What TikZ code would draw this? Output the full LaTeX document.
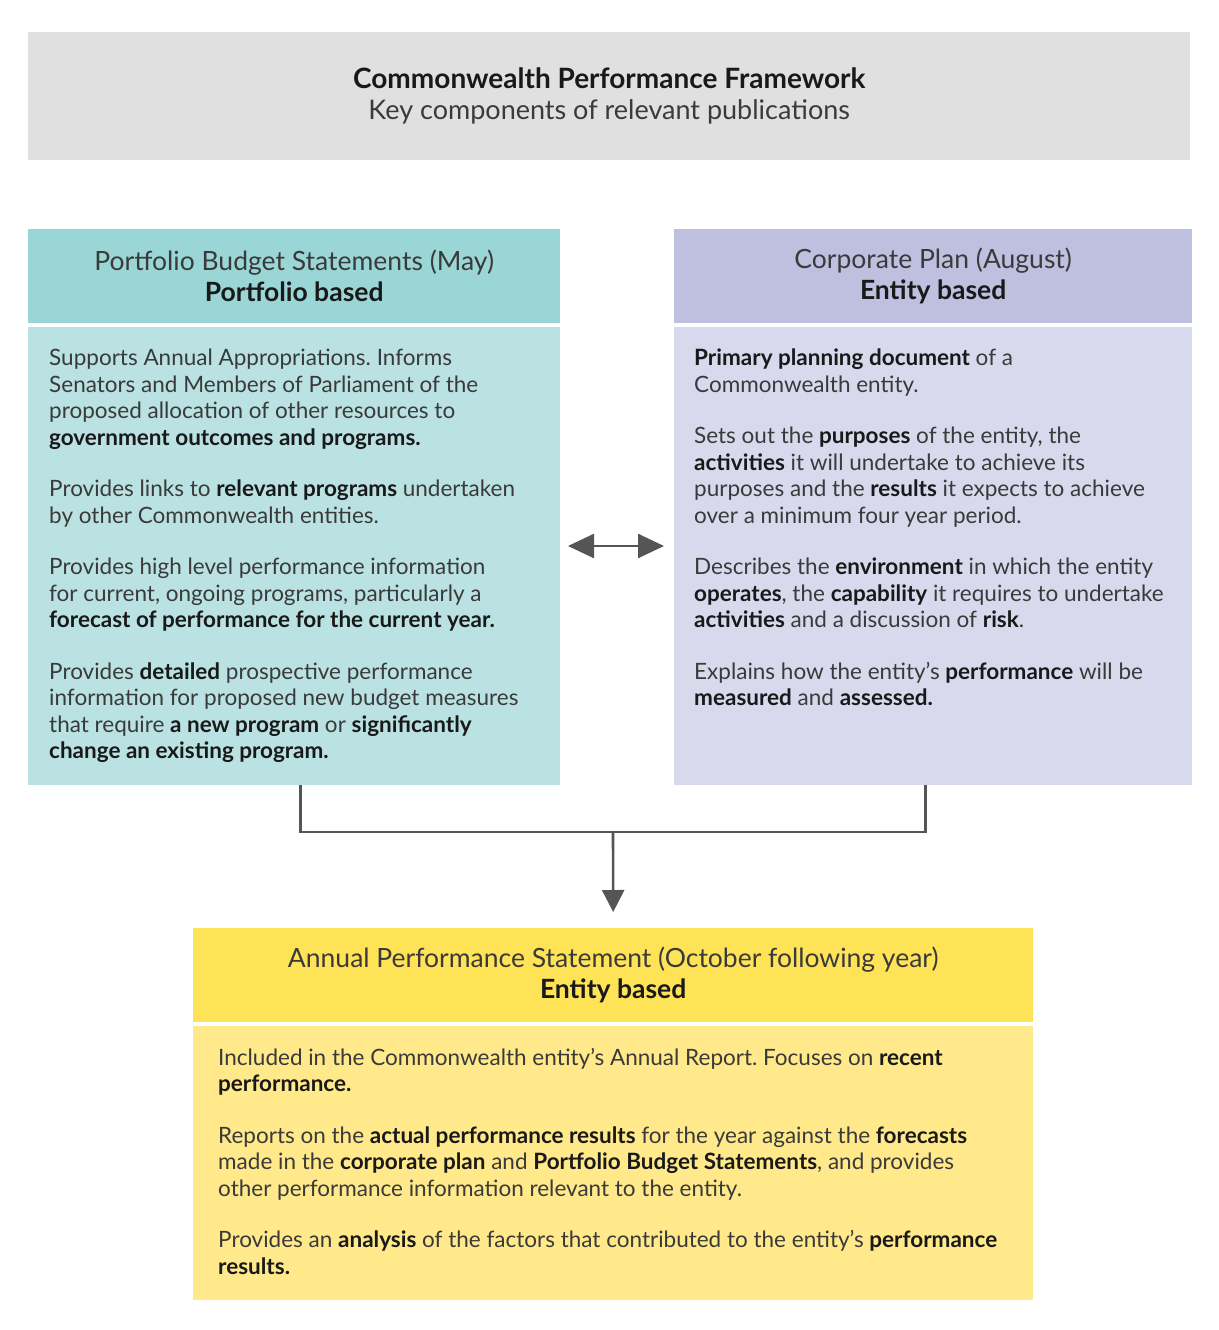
\documentclass[tikz,border=0pt]{standalone}
\usepackage{fontspec}
\setmainfont{Lato}
\usetikzlibrary{calc,arrows.meta,positioning}
\frenchspacing

\definecolor{titlegray}{HTML}{E0E0E0}
\definecolor{pbshead}{HTML}{9AD6D5}
\definecolor{pbsbody}{HTML}{BAE2E2}
\definecolor{cphead}{HTML}{BFBFE0}
\definecolor{cpbody}{HTML}{D9D9EE}
\definecolor{apshead}{HTML}{FFE357}
\definecolor{apsbody}{HTML}{FFE98A}
\definecolor{ink}{HTML}{3A3A3A}
\definecolor{linkgray}{HTML}{555555}

\newcommand{\bd}[1]{{\bfseries\color{black!90}#1}}

\tikzset{
    panel/.style={inner sep=0pt, anchor=north west},
    headtext/.style={align=center, text=ink, font=\fontsize{26.5}{31}\selectfont},
    bodytext/.style={align=left, inner sep=0pt, anchor=north west, text=ink,
        font=\fontsize{22.5}{26.5}\selectfont},
    link/.style={draw=linkgray, line width=2.6pt},
    tip/.style={-{Triangle[length=22pt,width=22pt]}}
}

\begin{document}
\begin{tikzpicture}[x=1pt,y=-1pt]
    \useasboundingbox (0,0) rectangle (1218,1330);
    \node[panel, fill=titlegray, minimum width=1162pt, minimum height=128pt] (T) at (28,32) {};
    \node[headtext, text=black, font=\fontsize{28}{31}\selectfont] at (T.center)
        {\bd{Commonwealth Performance Framework}\\{\color{ink}\fontsize{27}{31}\selectfont Key components of relevant publications}};

    \node[panel, fill=pbshead, minimum width=532pt, minimum height=94pt] (PBSh) at (28,229) {};
    \node[headtext] at (PBSh.center) {Portfolio Budget Statements (May)\\\bd{Portfolio based}};
    \node[panel, fill=pbsbody, minimum width=532pt, minimum height=458pt] (PBS) at (28,327) {};
    \node[bodytext] at ([xshift=21pt,yshift=-22pt]PBS.north west)
        {Supports Annual Appropriations. Informs\\
         Senators and Members of Parliament of the\\
         proposed allocation of other resources to\\
         \bd{government outcomes and programs.}\\[25pt]
         Provides links to \bd{relevant programs} undertaken\\
         by other Commonwealth entities.\\[25pt]
         Provides high level performance information\\
         for current, ongoing programs, particularly a\\
         \bd{forecast of performance for the current year.}\\[25pt]
         Provides \bd{detailed} prospective performance\\
         information for proposed new budget measures\\
         that require \bd{a new program} or \bd{significantly}\\
         \bd{change an existing program.}};

    \node[panel, fill=cphead, minimum width=518pt, minimum height=94pt] (CPh) at (674,229) {};
    \node[headtext] at (CPh.center) {Corporate Plan (August)\\\bd{Entity based}};
    \node[panel, fill=cpbody, minimum width=518pt, minimum height=458pt] (CP) at (674,327) {};
    \node[bodytext] at ([xshift=20pt,yshift=-22pt]CP.north west)
        {\bd{Primary planning document} of a\\
         Commonwealth entity.\\[25pt]
         Sets out the \bd{purposes} of the entity, the\\
         \bd{activities} it will undertake to achieve its\\
         purposes and the \bd{results} it expects to achieve\\
         over a minimum four year period.\\[25pt]
         Describes the \bd{environment} in which the entity\\
         \bd{operates}, the \bd{capability} it requires to undertake\\
         \bd{activities} and a discussion of \bd{risk}.\\[25pt]
         Explains how the entity’s \bd{performance} will be\\
         \bd{measured} and \bd{assessed.}};

    \node[panel, fill=apshead, minimum width=840pt, minimum height=94pt] (APSh) at (193,928) {};
    \node[headtext] at (APSh.center) {Annual Performance Statement (October following year)\\\bd{Entity based}};
    \node[panel, fill=apsbody, minimum width=840pt, minimum height=274pt] (APS) at (193,1026) {};
    \node[bodytext] at ([xshift=25pt,yshift=-22pt]APS.north west)
        {Included in the Commonwealth entity’s Annual Report. Focuses on \bd{recent}\\
         \bd{performance.}\\[25pt]
         Reports on the \bd{actual performance results} for the year against the \bd{forecasts}\\
         made in the \bd{corporate plan} and \bd{Portfolio Budget Statements}, and provides\\
         other performance information relevant to the entity.\\[25pt]
         Provides an \bd{analysis} of the factors that contributed to the entity’s \bd{performance}\\
         \bd{results.}};

    \coordinate (L) at (568,546);
    \coordinate (R) at (664,546);
    \draw[link, {Triangle[length=26pt,width=24pt]}-{Triangle[length=26pt,width=24pt]}] (L) -- (R);

    \coordinate (J) at (613,832);
    \draw[link] ([xshift=6pt]PBS.south) |- (J) -| ([xshift=-8pt]CP.south);
    \draw[link, tip] (J) -- ([yshift=16pt]APSh.north);
\end{tikzpicture}
\end{document}
